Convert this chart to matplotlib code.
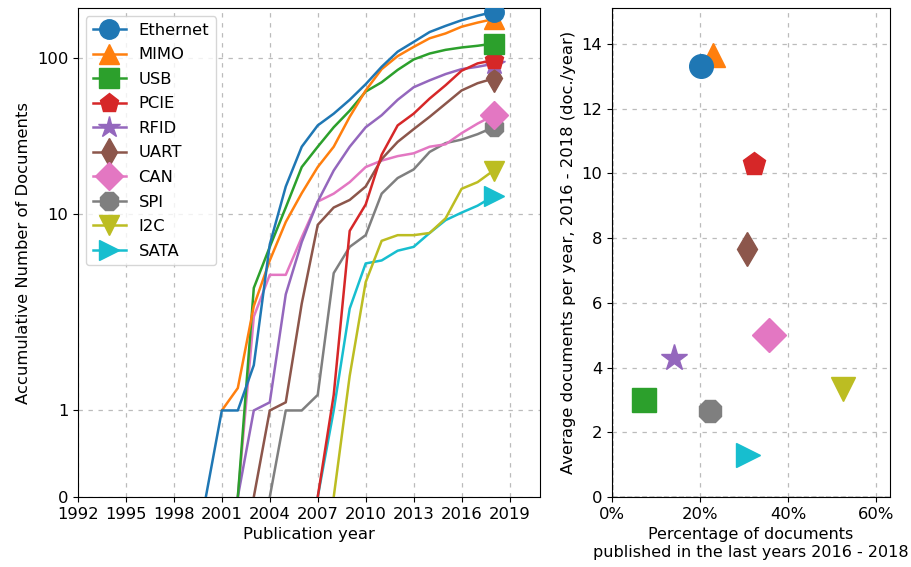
import numpy as np
import matplotlib
matplotlib.use("Agg")
import matplotlib.pyplot as plt
from matplotlib.ticker import PercentFormatter

nan = np.nan

# cumulative number of documents per year, 2000..2018
years = list(range(2000, 2019))
labels = ['Ethernet', 'MIMO', 'USB', 'PCIE', 'RFID', 'UART', 'CAN', 'SPI', 'I2C', 'SATA']
ethernet = [0, 1, 1, 1.7, 7, 15, 27, 37, 44, 54, 68, 88, 110, 127, 147, 161, 175, 187, 198]
mimo = [nan, 1, 1.3, 3.4, 5.8, 9.1, 13.6, 20, 27, 42, 62, 85, 103, 118, 134, 144, 159, 169, 178]
usb = [nan, nan, 0, 4.2, 6.8, 11, 20, 27, 36, 46, 61, 70, 84, 98, 107, 113, 117, 120, 124]
pcie = [nan, nan, nan, nan, nan, nan, nan, 0, 1.2, 8.2, 11.5, 24, 37, 44, 55, 67, 83, 92.5, 97]
rfid = [nan, nan, 0, 1, 1.1, 3.9, 7.2, 12, 19, 27, 36, 43, 54, 65, 72, 79, 85, 88, 92]
uart = [nan, nan, nan, 0, 1, 1.1, 3.5, 8.8, 11, 12.3, 15, 22.5, 29, 35, 42, 51, 62, 69, 74]
can = [nan, nan, 0, 3, 4.9, 4.9, 7.6, 12, 13.5, 16, 20, 22, 23.5, 24.5, 27, 28, 33, 38, 43]
spi = [nan, nan, nan, nan, 0, 1, 1, 1.2, 5.0, 6.8, 7.8, 13.5, 17, 19.3, 25, 28.5, 30, 32.5, 36]
i2c = [nan, nan, nan, nan, nan, nan, nan, nan, 0, 1.5, 4.5, 7.3, 7.8, 7.8, 8.0, 9.5, 14.5, 16, 19]
sata = [nan, nan, nan, nan, nan, nan, nan, 0, 1.0, 3.3, 5.6, 5.8, 6.5, 6.8, 8.0, 9.3, 10.2, 11.3, 13]

# right panel: share of docs published 2016-2018 and average docs per year
pct_recent = [0.202, 0.230, 0.073, 0.323, 0.141, 0.306, 0.357, 0.222, 0.525, 0.308]
avg_per_year = [13.3, 13.67, 3.0, 10.3, 4.3, 7.67, 5.0, 2.67, 3.33, 1.3]

series = [ethernet, mimo, usb, pcie, rfid, uart, can, spi, i2c, sata]
markers = ['o', '^', 's', 'p', '*', 'd', 'D', '8', 'v', '>']
colors = plt.rcParams['axes.prop_cycle'].by_key()['color']


# custom y scale: linear 0..1, then log decades of unequal size
def fwd(y):
    y = np.asarray(y, dtype=float)
    safe = np.where(y > 0, y, 1.0)
    lo = 86.6 * y
    mid = 86.6 + 196.7 * np.log10(safe)
    hi = 283.3 + 156.0 * np.log10(safe / 10.0)
    out = np.where(y < 1, lo, np.where(y < 10, mid, hi))
    return np.where(np.isnan(y), np.nan, out)


def inv(h):
    h = np.asarray(h, dtype=float)
    hc = np.clip(h, -1e3, 2e3)
    out = np.where(hc < 86.6, hc / 86.6,
                   np.where(hc < 283.3, 10 ** ((hc - 86.6) / 196.7),
                            10 * 10 ** ((hc - 283.3) / 156.0)))
    return np.where(np.isnan(h), np.nan, out)


plt.rcParams['font.size'] = 11.8
fig = plt.figure(figsize=(9.12, 5.67), dpi=100)
ax = fig.add_axes([0.0855, 0.1235, 0.5065, 0.862])
ax2 = fig.add_axes([0.671, 0.1235, 0.305, 0.862])

grid_kw = dict(color='#bbbbbb', linestyle=(0, (3.5, 4.5)), linewidth=0.9)

ax.set_yscale('function', functions=(fwd, inv))
for i, (lab, vals) in enumerate(zip(labels, series)):
    ax.plot(years, vals, color=colors[i], lw=1.8, marker=markers[i],
            markevery=[-1], markersize=14 if markers[i] != '*' else 16,
            label=lab, zorder=20 - i)

ax.set_xlim(1992, 2020.9)
ax.set_ylim(0, 209)
ax.set_xticks(range(1992, 2020, 3))
ax.set_yticks([0, 1, 10, 100])
ax.set_yticklabels(['0', '1', '10', '100'])
ax.minorticks_off()
ax.grid(True, **grid_kw)
ax.set_xlabel('Publication year')
ax.set_ylabel('Accumulative Number of Documents')
ax.legend(loc='upper left', fontsize=11.8, labelspacing=0.58)

for i, lab in enumerate(labels[::-1]):
    j = len(labels) - 1 - i
    ax2.plot(pct_recent[j], avg_per_year[j], linestyle='none', marker=markers[j],
             color=colors[j], markersize=17 if markers[j] != '*' else 20)

ax2.axhline(0, color='k', linestyle='--', lw=1)
ax2.axvline(0, color='k', linestyle='--', lw=1)
ax2.set_xlim(0, 0.632)
ax2.set_ylim(0, 15.1)
ax2.set_xticks([0, 0.2, 0.4, 0.6])
ax2.set_yticks(range(0, 15, 2))
ax2.xaxis.set_major_formatter(PercentFormatter(1.0, decimals=0))
ax2.grid(True, **grid_kw)
ax2.set_xlabel('Percentage of documents\npublished in the last years 2016 - 2018',
               fontsize=11.5)
ax2.set_ylabel('Average documents per year, 2016 - 2018 (doc./year)')

fig.savefig('out.png', dpi=100)
